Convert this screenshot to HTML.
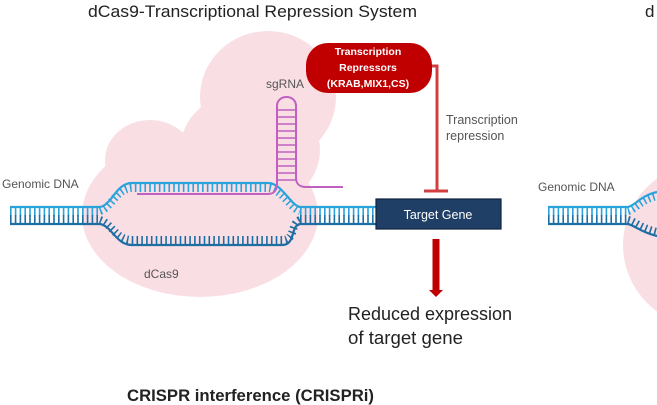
<!DOCTYPE html>
<html><head><meta charset="utf-8"><style>
html,body{margin:0;padding:0;background:#fff;}
svg{display:block;}
</style></head><body>
<svg width="657" height="405" viewBox="0 0 657 405" xmlns="http://www.w3.org/2000/svg">
<!-- blobs -->
<g fill="#f9dfe4">
<ellipse cx="268" cy="97" rx="68" ry="66"/>
<ellipse cx="200" cy="215" rx="118" ry="82"/>
<ellipse cx="150" cy="160" rx="45" ry="40"/>
<ellipse cx="250" cy="150" rx="70" ry="60"/>
<circle cx="705" cy="245" r="82"/>
</g>
<!-- title -->
<text x="88" y="17" font-family="Liberation Sans, sans-serif" font-size="17" fill="#222" textLength="329" lengthAdjust="spacingAndGlyphs">dCas9-Transcriptional Repression System</text>
<text x="645" y="17" font-family="Liberation Sans, sans-serif" font-size="17" fill="#222">d</text>
<!-- DNA rungs -->
<g stroke-width="9" fill="none" stroke-dasharray="1.6 3.2">
<path d="M10 211.5 H100" stroke="#2aa3dc"/>
<path d="M10 219.5 H100" stroke="#1d6ea3"/>
<path d="M300 211.5 H376" stroke="#2aa3dc"/>
<path d="M300 219.5 H376" stroke="#1d6ea3"/>
<path d="M548 211.5 H628" stroke="#2aa3dc"/>
<path d="M548 219.5 H628" stroke="#1d6ea3"/>
<path d="M100 211 C112 207 116 189 132 188 H268 C282 189 290 208 300 211" stroke="#2aa3dc" stroke-width="8"/>
<path d="M100 220 C112 224 116 240 132 240 H282 C296 240 290 224 300 220" stroke="#1d6ea3" stroke-width="8"/>
<path d="M628 211 C636 209 640 200 657 196" stroke="#2aa3dc" stroke-width="8"/>
<path d="M628 220 C636 222 640 228 657 232" stroke="#1d6ea3" stroke-width="8"/>
</g>
<g fill="none" stroke-width="2.2">
<path d="M10 207 H100 C112 205 116 183 132 183 H268 C282 183 290 205 300 207 H376" stroke="#2aa3dc"/>
<path d="M10 224 H100 C112 226 116 245 132 245 H282 C296 245 290 226 300 224 H376" stroke="#1d6ea3"/>
<path d="M548 207 H628 C636 205 640 196 657 192" stroke="#2aa3dc"/>
<path d="M548 224 H628 C636 226 640 232 657 236" stroke="#1d6ea3"/>
</g>
<!-- sgRNA -->
<g fill="none" stroke="#c060c0" stroke-width="2">
<path d="M137 194 H268 C274 194 277 190 277 184 V106 C277 94 296 94 296 106 V178 C296 184 300 187 306 187 H343"/>
<path d="M277 110 H296 M277 117 H296 M277 124 H296 M277 131 H296 M277 138 H296 M277 145 H296 M277 152 H296 M277 159 H296 M277 166 H296 M277 173 H296 M277 180 H296" stroke-width="1.5"/>
</g>
<text x="285" y="88" text-anchor="middle" font-family="Liberation Sans, sans-serif" font-size="12" fill="#555">sgRNA</text>
<!-- pill -->
<rect x="306" y="43" width="126" height="50" rx="22" fill="#c00000"/>
<g font-family="Liberation Sans, sans-serif" font-size="10.5" font-weight="bold" fill="#fff" text-anchor="middle">
<text x="368" y="55">Transcription</text>
<text x="368" y="71">Repressors</text>
<text x="368" y="87">(KRAB,MIX1,CS)</text>
</g>
<path d="M432 66 H437 V191 M424 191 H448" stroke="#d04040" stroke-width="3" fill="none"/>
<text x="446" y="124" font-family="Liberation Sans, sans-serif" font-size="12.5" fill="#555">Transcription</text>
<text x="446" y="140" font-family="Liberation Sans, sans-serif" font-size="12.5" fill="#555">repression</text>
<!-- target gene -->
<rect x="376" y="199" width="125" height="30" fill="#1f3f66" stroke="#0f2440" stroke-width="1.2"/>
<text x="438" y="219" text-anchor="middle" font-family="Liberation Sans, sans-serif" font-size="12.5" fill="#fff">Target Gene</text>
<!-- arrow -->
<rect x="432.5" y="239" width="7" height="52" fill="#c00000"/>
<path d="M429 290 H443 L436 297 Z" fill="#c00000"/>
<text x="348" y="320" font-family="Liberation Sans, sans-serif" font-size="18" fill="#222" textLength="164" lengthAdjust="spacingAndGlyphs">Reduced expression</text>
<text x="348" y="344" font-family="Liberation Sans, sans-serif" font-size="18" fill="#222" textLength="115" lengthAdjust="spacingAndGlyphs">of target gene</text>
<!-- labels -->
<text x="2" y="188" font-family="Liberation Sans, sans-serif" font-size="12" fill="#555">Genomic DNA</text>
<text x="538" y="191" font-family="Liberation Sans, sans-serif" font-size="12" fill="#555">Genomic DNA</text>
<text x="144" y="278" font-family="Liberation Sans, sans-serif" font-size="12" fill="#555">dCas9</text>
<text x="127" y="401" font-family="Liberation Sans, sans-serif" font-size="17" font-weight="bold" fill="#222" textLength="247" lengthAdjust="spacingAndGlyphs">CRISPR interference (CRISPRi)</text>
</svg>
</body></html>
